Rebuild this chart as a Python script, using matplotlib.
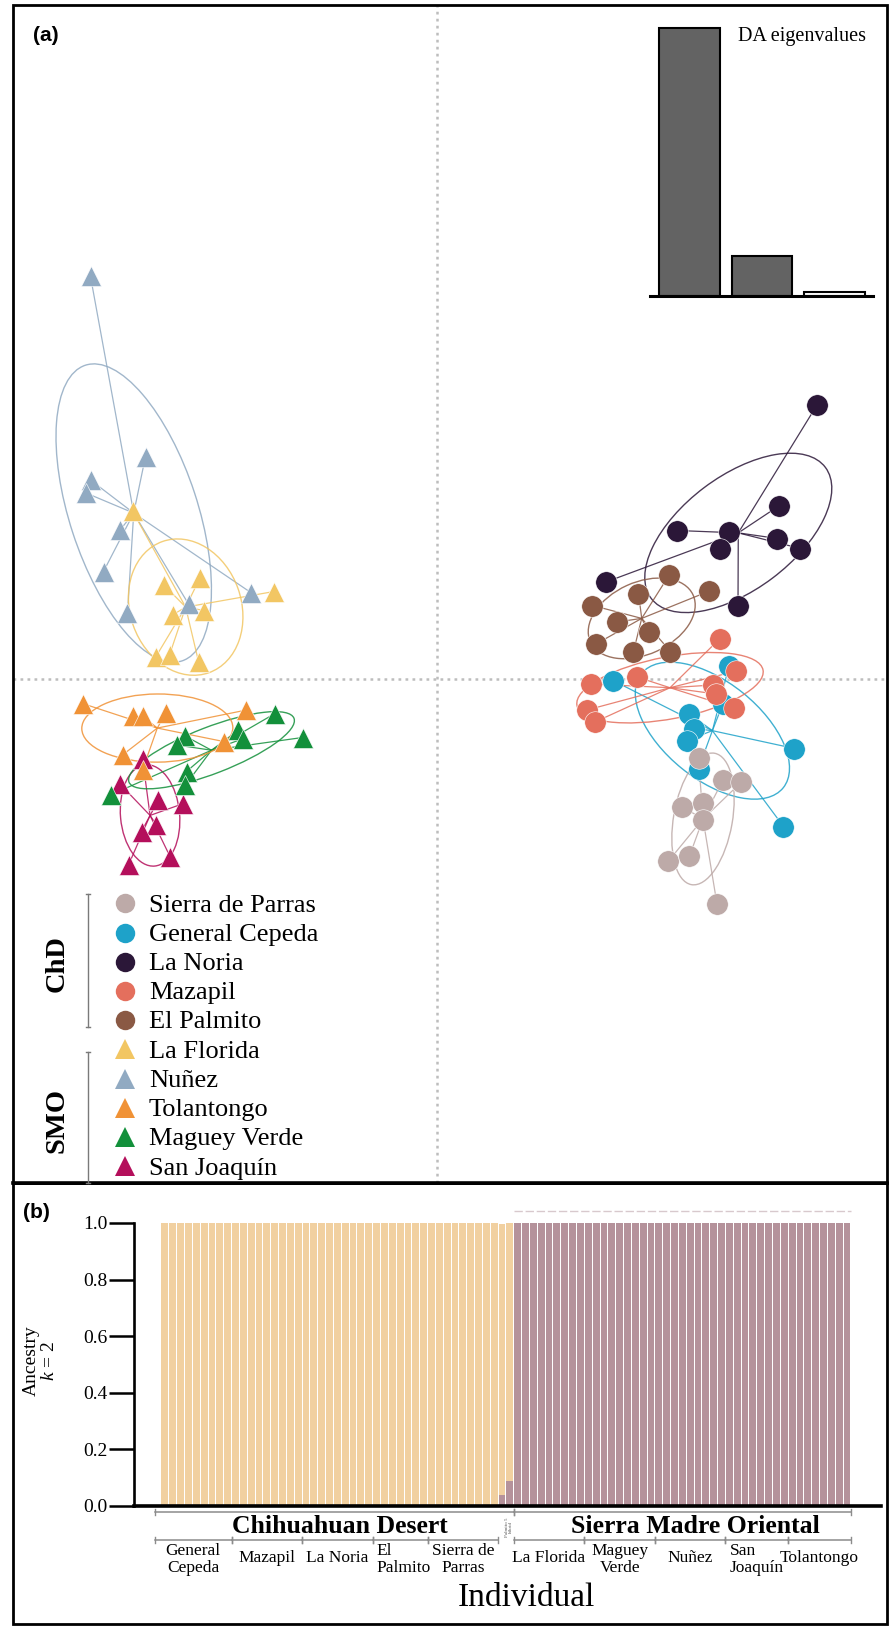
import numpy as np
import matplotlib
matplotlib.use('Agg')
import matplotlib.pyplot as plt
from matplotlib.patches import Ellipse, Rectangle

SERIF = ['Liberation Serif', 'DejaVu Serif']
SANS = ['Liberation Sans', 'DejaVu Sans']
plt.rcParams['font.family'] = SERIF
plt.rcParams['mathtext.fontset'] = 'custom'
plt.rcParams['mathtext.rm'] = 'Liberation Serif'
plt.rcParams['mathtext.it'] = 'Liberation Serif:italic'

# ------------------------------------------------------------------ data
populations = ['Sierra de Parras', 'General Cepeda', 'La Noria', 'Mazapil', 'El Palmito',
               'La Florida', 'Nuñez', 'Tolantongo', 'Maguey Verde', 'San Joaquín']
pop_region = ['ChD'] * 5 + ['SMO'] * 5
pop_colors = ['#BDAAA8', '#1EA2C9', '#2B1738', '#E46F5D', '#8A5944',
              '#F2C663', '#91AAC2', '#F09236', '#13903B', '#B40F5B']

# DA scores (LD1, LD2)
sp_ld1 = [5.23, 5.72, 6.09, 4.91, 5.32, 5.33, 4.63, 5.05, 5.60]
sp_ld2 = [-1.58, -2.02, -2.06, -2.56, -2.48, -2.81, -3.64, -3.54, -4.50]
gc_ld1 = [5.84, 3.52, 5.72, 5.04, 5.14, 5.00, 7.15, 5.23, 6.93]
gc_ld2 = [0.26, -0.03, -0.49, -0.69, -0.99, -1.23, -1.39, -1.79, -2.95]
ln_ld1 = [7.60, 6.85, 4.80, 5.84, 5.66, 6.81, 7.27, 3.38, 6.02]
ln_ld2 = [5.48, 3.47, 2.97, 2.95, 2.61, 2.81, 2.61, 1.94, 1.46]
mz_ld1 = [5.66, 5.99, 4.00, 3.09, 5.52, 5.58, 3.00, 5.94, 3.16]
mz_ld2 = [0.81, 0.16, 0.04, -0.10, -0.12, -0.30, -0.62, -0.58, -0.86]
ep_ld1 = [4.65, 5.45, 4.03, 3.11, 3.60, 4.23, 3.18, 3.93, 4.67]
ep_ld2 = [2.09, 1.76, 1.71, 1.47, 1.14, 0.94, 0.70, 0.55, 0.55]
lf_ld1 = [-6.09, -4.74, -5.46, -3.26, -4.66, -5.29, -5.62, -5.35, -4.77]
lf_ld2 = [3.36, 2.02, 1.88, 1.75, 1.37, 1.28, 0.45, 0.48, 0.35]
nu_ld1 = [-6.93, -5.83, -6.93, -7.02, -6.34, -6.67, -6.19, -4.97, -3.71]
nu_ld2 = [8.05, 4.45, 3.98, 3.72, 2.98, 2.15, 1.32, 1.50, 1.72]
to_ld1 = [-7.09, -6.09, -5.89, -5.42, -3.81, -4.27, -6.29, -5.89]
to_ld2 = [-0.49, -0.74, -0.74, -0.67, -0.62, -1.25, -1.52, -1.82]
mv_ld1 = [-3.24, -3.97, -3.87, -5.04, -5.21, -2.69, -5.01, -5.03, -6.53]
mv_ld2 = [-0.69, -1.02, -1.19, -1.14, -1.32, -1.17, -1.85, -2.12, -2.32]
sj_ld1 = [-5.89, -6.35, -5.57, -5.07, -5.61, -5.91, -5.34, -6.17]
sj_ld2 = [-1.59, -2.09, -2.42, -2.49, -2.92, -3.05, -3.55, -3.72]

scores = {
    'Sierra de Parras': (sp_ld1, sp_ld2), 'General Cepeda': (gc_ld1, gc_ld2),
    'La Noria': (ln_ld1, ln_ld2), 'Mazapil': (mz_ld1, mz_ld2),
    'El Palmito': (ep_ld1, ep_ld2), 'La Florida': (lf_ld1, lf_ld2),
    'Nuñez': (nu_ld1, nu_ld2), 'Tolantongo': (to_ld1, to_ld2),
    'Maguey Verde': (mv_ld1, mv_ld2), 'San Joaquín': (sj_ld1, sj_ld2),
}
draw_order = ['Nuñez', 'La Florida', 'San Joaquín', 'Maguey Verde', 'Tolantongo',
              'General Cepeda', 'Sierra de Parras', 'La Noria', 'El Palmito', 'Mazapil']

eigenvalues = [100.0, 15.0, 1.5]

# STRUCTURE k = 2
group_labels = ['General\nCepeda', 'Mazapil', 'La Noria', 'El\nPalmito', 'Sierra de\nParras',
                'Palmito 5\nhíbrid', 'La Florida', 'Maguey\nVerde', 'Nuñez', 'San\nJoaquín',
                'Tolantongo']
group_sizes = [9, 9, 9, 7, 9, 2, 9, 9, 9, 8, 8]
region_labels = ['Chihuahuan Desert', 'Sierra Madre Oriental']
region_sizes = [45, 43]
q_cluster_smo = [0.0] * 43 + [0.04, 0.09] + [1.0] * 43
q_cluster_chd = [1.0] * 43 + [0.955, 0.91] + [0.0] * 43
y_ticks = [0.0, 0.2, 0.4, 0.6, 0.8, 1.0]

# ------------------------------------------------------------------ figure
W, H = 892, 1627
fig = plt.figure(figsize=(W / 100, H / 100), dpi=100)


def fx(px):
    return px / W


def fy(py):
    return 1 - py / H


# ---------------- panel (a): DA scatter
ax = fig.add_axes([fx(12.5), fy(1183), fx(887) - fx(12.5), fy(5) - fy(1183)])
ax.set_xlim(-8.49, 9.0)
ax.set_ylim(-10.08, 13.48)
ax.axis('off')
dot_style = dict(color='#BDBDBD', lw=1.8, linestyle=(0, (1.1, 1.7)), zorder=0)
ax.axvline(0, **dot_style)
ax.axhline(0, **dot_style)

color_of = dict(zip(populations, pop_colors))
marker_of = {p: ('o' if r == 'ChD' else '^') for p, r in zip(populations, pop_region)}

for pop in draw_order:
    x = np.array(scores[pop][0])
    y = np.array(scores[pop][1])
    c = color_of[pop]
    cx, cy = x.mean(), y.mean()
    for xi, yi in zip(x, y):
        ax.plot([cx, xi], [cy, yi], color=c, lw=0.9, alpha=0.85, zorder=2,
                solid_capstyle='butt')
    cov = np.cov(x, y, bias=True)
    vals, vecs = np.linalg.eigh(cov)
    order = vals.argsort()[::-1]
    vals, vecs = vals[order], vecs[:, order]
    ang = np.degrees(np.arctan2(vecs[1, 0], vecs[0, 0]))
    ax.add_patch(Ellipse((cx, cy), 2 * 1.5 * np.sqrt(vals[0]), 2 * 1.5 * np.sqrt(vals[1]),
                         angle=ang, fill=False, edgecolor=c, lw=1.0, alpha=0.85, zorder=2))

for pop in draw_order:
    x, y = scores[pop]
    m = marker_of[pop]
    ax.plot(x, y, ls='none', marker=m, ms=15.5 if m == 'o' else 15,
            color=color_of[pop], mec='white', mew=0.4, zorder=3)

# inset: DA eigenvalues
axi = fig.add_axes([fx(650), fy(296), fx(873) - fx(650), fy(28) - fy(296)])
axi.bar(range(3), eigenvalues, width=0.84,
        color=['#636363', '#636363', 'white'], edgecolor='black', lw=1.5, clip_on=False)
axi.set_xlim(-0.544, 2.53)
axi.set_ylim(0, 100)
axi.set_xticks([])
axi.set_yticks([])
for s in ['top', 'right', 'left']:
    axi.spines[s].set_visible(False)
axi.spines['bottom'].set_linewidth(2.2)
axi.patch.set_alpha(0)

# ---------------- panel (b): STRUCTURE barplot
axb = fig.add_axes([fx(133.7), fy(1506), fx(881) - fx(133.7), fy(1206) - fy(1506)])
idx = np.arange(len(q_cluster_smo))
axb.bar(idx, q_cluster_smo, width=0.87, color='#B5929B', lw=0)
axb.bar(idx, q_cluster_chd, width=0.87, bottom=q_cluster_smo, color='#F1D0A0', lw=0)
axb.set_xlim(-3.98, 91.34)
axb.set_ylim(0, 1.06)
axb.set_xticks([])
axb.set_yticks(y_ticks)
axb.set_yticklabels([f'{t:.1f}' for t in y_ticks], fontsize=14)
axb.tick_params(axis='y', direction='out', length=18, width=1.8, pad=1)
for s in ['top', 'right']:
    axb.spines[s].set_visible(False)
axb.spines['left'].set_bounds(0, 1)
axb.spines['left'].set_linewidth(1.9)
axb.spines['bottom'].set_linewidth(2.6)
axb.spines['bottom'].set_zorder(5)
axb.patch.set_alpha(0)

# faint dashed line above SMO bars
r_edges = np.concatenate([[0], np.cumsum(region_sizes)]) - 0.5
axb.plot([r_edges[1], r_edges[2]], [1.042, 1.042], color='#D8C9CD', lw=1.0,
         ls=(0, (6, 2)), clip_on=False)

# region brackets and labels
br_col = '#8C8C8C'
for i, lab in enumerate(region_labels):
    a, b = r_edges[i], r_edges[i + 1]
    if i == 0:
        a -= 0.8
    axb.plot([a, b], [-0.021, -0.021], color=br_col, lw=1.1, clip_on=False)
    for xe in (a, b):
        axb.plot([xe, xe], [-0.011, -0.031], color=br_col, lw=1.0, clip_on=False)
    axb.text((a + b) / 2 + (0.7 if i == 0 else 1.6), -0.074, lab, ha='center',
             va='center', fontsize=18.5, fontweight='bold', clip_on=False)

# sub-group brackets and labels
g_edges = np.concatenate([[0], np.cumsum(group_sizes)]) - 0.5
for i, lab in enumerate(group_labels):
    a, b = g_edges[i], g_edges[i + 1]
    if i == 0:
        a -= 0.8
    if 'híbrid' in lab:
        axb.text((a + b) / 2 + 0.4, -0.074, lab, rotation=90, ha='center', va='center',
                 fontsize=3.6, color='#555555', linespacing=1.0)
        continue
    axb.plot([a, b], [-0.120, -0.120], color=br_col, lw=1.1, clip_on=False)
    for xe in (a, b):
        axb.plot([xe, xe], [-0.111, -0.129], color=br_col, lw=1.0, clip_on=False)
    two = '\n' in lab
    if lab.startswith('El') or lab.startswith('San'):
        axb.text(a + 0.5, -0.19, lab, ha='left', va='center', fontsize=12.5,
                 linespacing=1.05, multialignment='left')
    else:
        axb.text((a + b) / 2, -0.19 if two else -0.182, lab, ha='center', va='center',
                 fontsize=12.5, linespacing=1.05, multialignment='center')

axb.text(0.5 * (-3.98 + 91.34) + 2.4, -0.325, 'Individual', ha='center', va='center',
         fontsize=24)

# ---------------- overlay: frames, panel letters, legend
ov = fig.add_axes([0, 0, 1, 1], zorder=10)
ov.set_xlim(0, W)
ov.set_ylim(H, 0)
ov.axis('off')
ov.add_patch(Rectangle((12.5, 5), 874.5, 1178, fill=False, lw=2.0, ec='black'))
ov.add_patch(Rectangle((12.5, 1183), 874.5, 441, fill=False, lw=2.0, ec='black'))
ov.plot([12.5, 887], [1183, 1183], color='black', lw=2.6)

ov.text(46, 35, '(a)', family=SANS, fontweight='bold', fontsize=15, ha='center', va='center')
ov.text(36, 1212, '(b)', family=SANS, fontweight='bold', fontsize=15, ha='center', va='center')
ov.text(738, 36, 'DA eigenvalues', fontsize=14.5, ha='left', va='center')

ov.text(31, 1361, 'Ancestry', rotation=90, fontsize=14, ha='center', va='center')
ov.text(50, 1361, '$k$ = 2', rotation=90, fontsize=14, ha='center', va='center')

for i, pop in enumerate(populations):
    y = 903.3 + 29.2 * i
    m = marker_of[pop]
    ov.plot(125, y, marker=m, ms=14 if m == 'o' else 15, color=color_of[pop], mew=0)
    ov.text(149, y + 8.4, pop, fontsize=19, ha='left', va='baseline')

for lab, y0, y1 in [('ChD', 894, 1027), ('SMO', 1052, 1183)]:
    ov.plot([88, 88], [y0, y1], color='#7A7A7A', lw=1.0)
    for ye in (y0, y1):
        ov.plot([86, 90], [ye, ye], color='#7A7A7A', lw=1.0)
    ov.text(57, (y0 + y1) / 2 + 3, lab, rotation=90,
            fontsize=20.5, fontweight='bold', ha='center', va='center')

fig.savefig('out.png', dpi=100)
